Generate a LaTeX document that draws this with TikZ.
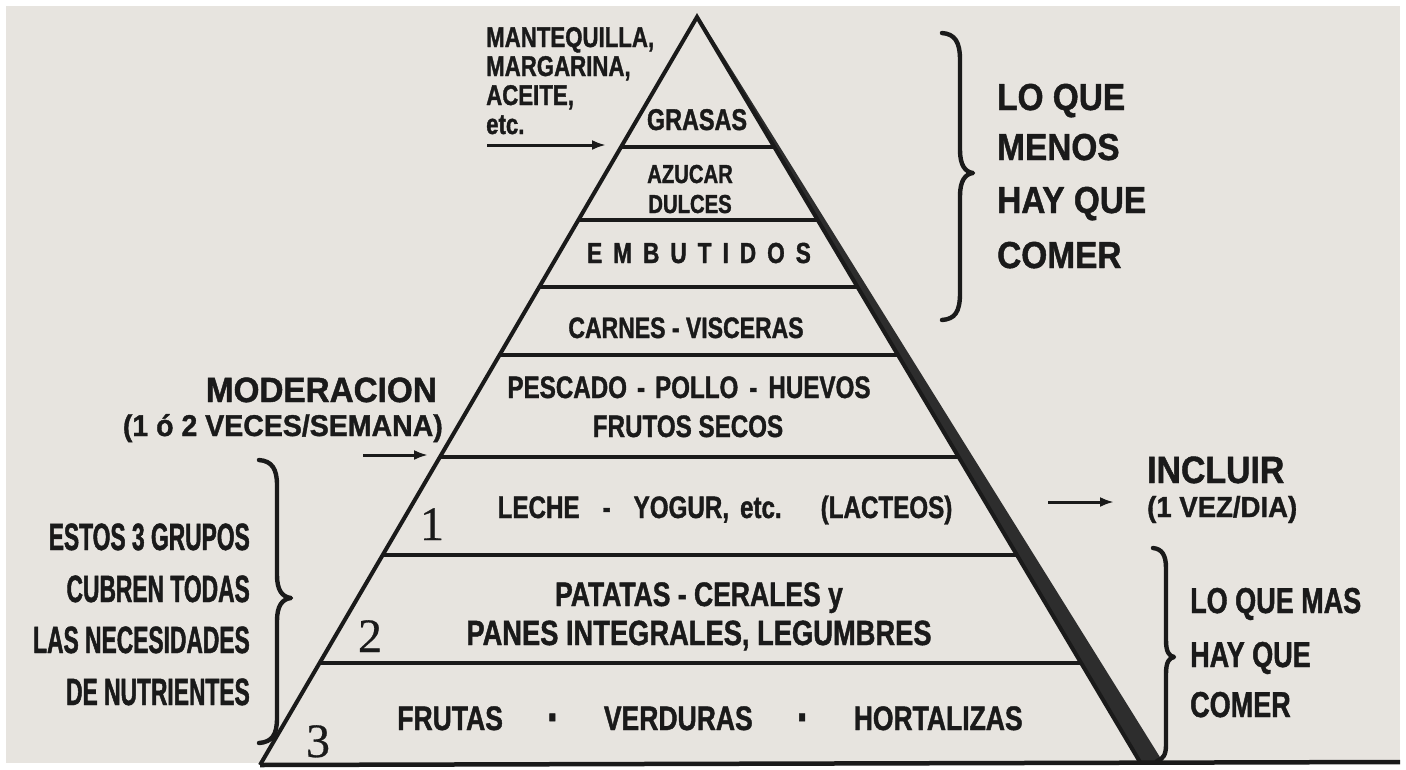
\documentclass[tikz,border=0pt]{standalone}
\usepackage{fontspec}
\setmainfont{Liberation Sans}
\newfontfamily\fA[FakeStretch=0.6, BoldFeatures={FakeBold=1.2}]{Liberation Sans}
\newfontfamily\fB[FakeStretch=0.75, BoldFeatures={FakeBold=1.2}]{Liberation Sans}
\newfontfamily\fC[FakeStretch=0.78, BoldFeatures={FakeBold=1.2}]{Liberation Sans}
\newfontfamily\fD[FakeStretch=0.89, BoldFeatures={FakeBold=1.2}]{Liberation Sans}
\newfontfamily\fE[FakeStretch=0.95, BoldFeatures={FakeBold=1.2}]{Liberation Sans}
\newfontfamily\fN[FakeBold=0.6]{Liberation Serif}
\usetikzlibrary{arrows.meta}
\definecolor{paper}{RGB}{231,228,223}
\definecolor{ink}{RGB}{26,26,26}
\definecolor{band}{RGB}{45,45,45}
\newcommand{\fsz}[1]{\fontsize{#1}{#1}\selectfont}
\newcommand{\bigdot}{\raisebox{-4pt}{\fsz{50}·}}
\begin{document}
\begin{tikzpicture}[x=1pt,y=-1pt,
  lbl/.style={inner sep=0pt, text=ink},
  edge/.style={draw=ink, line width=4pt},
  layer/.style={draw=ink, line width=3.8pt},
  brace/.style={draw=ink, line width=4.4pt, line cap=round, line join=round},
  arr/.style={draw=ink, line width=3pt, -{Latex[length=14pt,width=10pt]}}]
\useasboundingbox (0,0) rectangle (1406,769);
\fill[white] (0,0) rectangle (1406,769);
\fill[paper] (6,6) rectangle (1400,763);

% pyramid
\coordinate (A) at (697,17);
\coordinate (BL) at (260,765);
\coordinate (BR) at (1140,762);
\coordinate (BO) at (1163,762);
\fill[band] (697,14) -- (BO) -- (BR) -- cycle;
\draw[edge, line join=miter] (BL) -- (A) -- (BR);
\draw[draw=ink, line width=4.5pt] (BL) -- (1400,762);

\draw[layer] (621.1,147) -- (774.4,147);
\draw[layer] (578.4,220) -- (817.8,220);
\draw[layer] (539.3,287) -- (857.7,287);
\draw[layer] (499.6,355) -- (898.1,355);
\draw[layer] (440.0,457) -- (958.8,457);
\draw[layer] (382.8,555) -- (1017.1,555);
\draw[layer] (319.7,663) -- (1081.4,663);

% pyramid labels
\node[lbl, anchor=base, font=\fC\bfseries\fsz{30}] (grasas) at (697,130) {GRASAS};
\node[lbl, anchor=base, font=\fC\bfseries\fsz{26}] (azucar) at (690,183) {AZUCAR};
\node[lbl, anchor=base, font=\fC\bfseries\fsz{26}] (dulces) at (690,213) {DULCES};
\node[lbl, anchor=base, font=\fC\bfseries\fsz{29}] (embutidos) at (699,263) {E\kern11pt M\kern11pt B\kern11pt U\kern11pt T\kern11pt I\kern11pt D\kern11pt O\kern11pt S};
\node[lbl, anchor=base, font=\fC\bfseries\fsz{29.5}] (carnes) at (686,338) {CARNES - VISCERAS};
\node[lbl, anchor=base, font=\fC\bfseries\fsz{31}] (pescado) at (689,398) {PESCADO\hspace{10pt}-\hspace{10pt}POLLO\hspace{11pt}-\hspace{11pt}HUEVOS};
\node[lbl, anchor=base, font=\fC\bfseries\fsz{31}] (frutos) at (688,437) {FRUTOS SECOS};
\node[lbl, anchor=base, font=\fC\bfseries\fsz{31}] (leche) at (725,518) {LECHE\hspace{23pt}-\hspace{23pt}YOGUR,\hspace{11pt}etc.\hspace{39pt}(LACTEOS)};
\node[lbl, anchor=base, font=\fC\bfseries\fsz{34}] (patatas) at (699,606) {PATATAS - CERALES y};
\node[lbl, anchor=base, font=\fC\bfseries\fsz{35}] (panes) at (699,645) {PANES INTEGRALES, LEGUMBRES};
\node[lbl, anchor=base, font=\fC\bfseries\fsz{34}] (frutas) at (710,730) {FRUTAS\hspace{44pt}\bigdot\hspace{44pt}VERDURAS\hspace{44pt}\bigdot\hspace{44pt}HORTALIZAS};

\node[lbl, anchor=base, font=\fN\fsz{48}] (n1) at (432,540) {1};
\node[lbl, anchor=base, font=\fN\fsz{48}] (n2) at (370,652) {2};
\node[lbl, anchor=base, font=\fN\fsz{48}] (n3) at (318,757) {3};

% top-left label
\node[lbl, anchor=base west, font=\fC\bfseries\fsz{28.5}] (mant) at (486,47) {MANTEQUILLA,};
\node[lbl, anchor=base west, font=\fC\bfseries\fsz{28.5}] (marg) at (486,76) {MARGARINA,};
\node[lbl, anchor=base west, font=\fC\bfseries\fsz{28.5}] (acei) at (486,105) {ACEITE,};
\node[lbl, anchor=base west, font=\fC\bfseries\fsz{28.5}] (etc) at (486,134) {etc.};
\coordinate (a1s) at (487,145);
\coordinate (a1e) at (606,145);
\draw[arr] (a1s) -- (a1e);

% top-right label
\node[lbl, anchor=base west, font=\fD\bfseries\fsz{37.5}] (loque) at (997,110) {LO QUE};
\node[lbl, anchor=base west, font=\fD\bfseries\fsz{37.5}] (menos) at (997,160) {MENOS};
\node[lbl, anchor=base west, font=\fD\bfseries\fsz{37.5}] (hayque) at (997,213) {HAY QUE};
\node[lbl, anchor=base west, font=\fD\bfseries\fsz{37.5}] (comer) at (997,268) {COMER};
\draw[brace] (942,33) .. controls (955,34) and (960,42) .. (960,60) -- (960,150)
  .. controls (960,165) and (965,172) .. (973,173)
  .. controls (965,174) and (960,181) .. (960,196) -- (960,293)
  .. controls (960,312) and (955,319) .. (942,320);

% moderacion
\node[lbl, anchor=base east, font=\fE\bfseries\fsz{35}] (moder) at (437,402) {MODERACION};
\node[lbl, anchor=base east, font=\fE\bfseries\fsz{30}] (veces) at (443,436) {(1 ó 2 VECES/SEMANA)};
\coordinate (a2s) at (363,455);
\coordinate (a2e) at (428,455);
\draw[arr] (a2s) -- (a2e);

% incluir
\node[lbl, anchor=base west, font=\fD\bfseries\fsz{38}] (incluir) at (1147,483) {INCLUIR};
\node[lbl, anchor=base west, font=\fE\bfseries\fsz{29}] (vez) at (1147,517) {(1 VEZ/DIA)};
\coordinate (a3s) at (1048,502);
\coordinate (a3e) at (1114,502);
\draw[arr] (a3s) -- (a3e);

% left label
\node[lbl, anchor=base east, font=\fA\bfseries\fsz{38}] (estos) at (250,550) {ESTOS 3 GRUPOS};
\node[lbl, anchor=base east, font=\fA\bfseries\fsz{38}] (cubren) at (250,602) {CUBREN TODAS};
\node[lbl, anchor=base east, font=\fA\bfseries\fsz{38}] (necesid) at (250,653) {LAS NECESIDADES};
\node[lbl, anchor=base east, font=\fA\bfseries\fsz{38}] (nutri) at (250,705) {DE NUTRIENTES};
\draw[brace] (259,460) .. controls (272,461) and (277,469) .. (277,485) -- (277,575)
  .. controls (277,590) and (282,597) .. (291,598)
  .. controls (282,599) and (277,606) .. (277,621) -- (277,718)
  .. controls (277,735) and (272,742) .. (259,743);

% lower right label
\node[lbl, anchor=base west, font=\fB\bfseries\fsz{36}] (loquemas) at (1190,613) {LO QUE MAS};
\node[lbl, anchor=base west, font=\fB\bfseries\fsz{36}] (hayque2) at (1190,667) {HAY QUE};
\node[lbl, anchor=base west, font=\fB\bfseries\fsz{36}] (comer2) at (1190,717) {COMER};
\draw[brace] (1153,548) .. controls (1162,549) and (1166,555) .. (1166,568) -- (1166,640)
  .. controls (1166,652) and (1169,656) .. (1174,657)
  .. controls (1169,658) and (1166,662) .. (1166,674) -- (1166,745)
  .. controls (1166,755) and (1163,759) .. (1157,761);
\end{tikzpicture}
\end{document}
